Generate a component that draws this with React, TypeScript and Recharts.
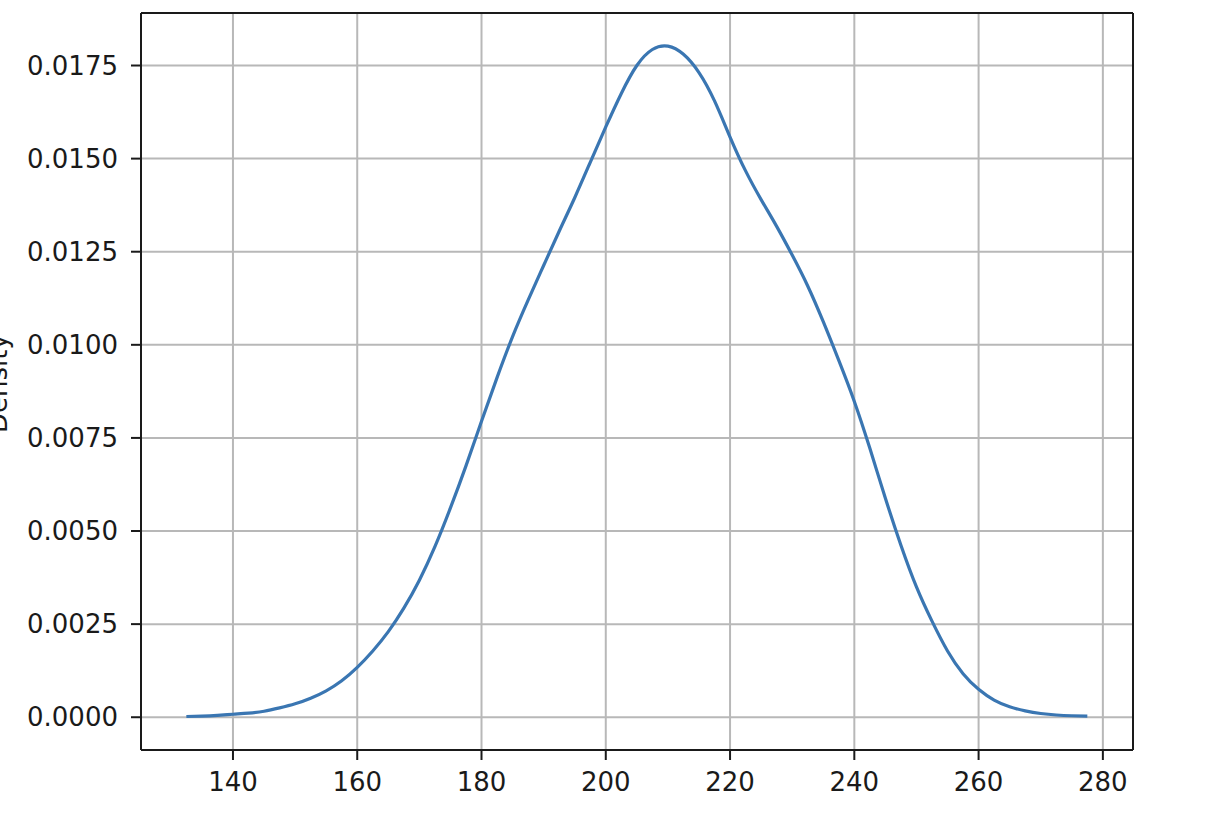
import React from "react";
import { LineChart, Line, XAxis, YAxis, CartesianGrid, ReferenceLine } from "recharts";

const xValues = [
  132.5, 135, 137.5, 140, 142.5, 145, 147.5, 150, 152.5, 155, 157.5, 160, 162.5, 165, 167.5, 170, 172.5, 175, 177.5,
  180, 182.5, 185, 187.5, 190, 192.5, 195, 197.5, 200, 202.5, 205, 207.5, 210, 212.5, 215, 217.5, 220, 222.5, 225,
  227.5, 230, 232.5, 235, 237.5, 240, 242.5, 245, 247.5, 250, 252.5, 255, 257.5, 260, 262.5, 265, 267.5, 270, 272.5,
  275, 277.5,
];
const densityValues = [
  0.00002, 0.00003, 0.00005, 0.00008, 0.00011, 0.00016, 0.00025, 0.00036, 0.00051, 0.00071, 0.00098, 0.00134, 0.00178,
  0.0023, 0.00293, 0.00368, 0.00458, 0.00562, 0.00675, 0.00795, 0.00912, 0.01022, 0.0112, 0.01213, 0.01305, 0.01395,
  0.0149, 0.01585, 0.01675, 0.0175, 0.01793, 0.01802, 0.0178, 0.01731, 0.01655, 0.01558, 0.01467, 0.0139, 0.01318,
  0.01241, 0.01158, 0.01062, 0.00958, 0.00848, 0.00722, 0.00588, 0.00462, 0.0035, 0.00258, 0.00178, 0.00117, 0.00075,
  0.00046, 0.00028, 0.00017, 0.0001, 0.00006, 0.00004, 0.00003,
];
const xTicks = [140, 160, 180, 200, 220, 240, 260, 280];
const yTicks = [0, 0.0025, 0.005, 0.0075, 0.01, 0.0125, 0.015, 0.0175];
const yLabel = "Density";
const xDomain: [number, number] = [125.2, 284.85];
const yDomain: [number, number] = [-0.00088, 0.01891];

const data = xValues.map((x, i) => ({ x, density: densityValues[i] }));

const FONT = "'DejaVu Sans', sans-serif";
const TEXT = "#1a1a1a";
const SPINE = "#1a1a1a";
const tickStyle = { fontFamily: FONT, fontSize: 26, fill: TEXT };

const YLabel = (props: any) => {
  const vb = props.viewBox || { x: 0, y: 0, width: 0, height: 0 };
  const cy = vb.y + vb.height / 2 + 2;
  const x = 7;
  return (
    <text
      x={x}
      y={cy}
      transform={`rotate(-90, ${x}, ${cy})`}
      textAnchor="middle"
      style={{ fontFamily: FONT, fontSize: 26, fill: TEXT }}
    >
      {yLabel}
    </text>
  );
};

export default function App() {
  return (
    <div style={{ position: "absolute", left: 0, top: 0, width: 1208, height: 838, background: "#fff" }}>
      <LineChart width={1208} height={838} data={data} margin={{ top: 13, right: 75, bottom: 0, left: 0 }}>
        <CartesianGrid stroke="#b8b8b8" strokeWidth={2} />
        <XAxis
          dataKey="x"
          type="number"
          domain={xDomain}
          allowDataOverflow
          ticks={xTicks}
          height={88}
          tickSize={10}
          tickMargin={13}
          tick={tickStyle}
          axisLine={{ stroke: SPINE, strokeWidth: 2 }}
          tickLine={{ stroke: SPINE, strokeWidth: 2 }}
          interval={0}
        />
        <YAxis
          type="number"
          domain={yDomain}
          allowDataOverflow
          ticks={yTicks}
          width={141}
          tickSize={10}
          tickMargin={13}
          tick={tickStyle}
          tickFormatter={(v: number) => v.toFixed(4)}
          axisLine={{ stroke: SPINE, strokeWidth: 2 }}
          tickLine={{ stroke: SPINE, strokeWidth: 2 }}
          interval={0}
          label={<YLabel />}
        />
        <ReferenceLine x={xDomain[1]} stroke={SPINE} strokeWidth={2} ifOverflow="extendDomain" />
        <ReferenceLine y={yDomain[1]} stroke={SPINE} strokeWidth={2} ifOverflow="extendDomain" />
        <Line
          type="natural"
          dataKey="density"
          stroke="#3a76b2"
          strokeWidth={3.2}
          dot={false}
          isAnimationActive={false}
        />
      </LineChart>
    </div>
  );
}
